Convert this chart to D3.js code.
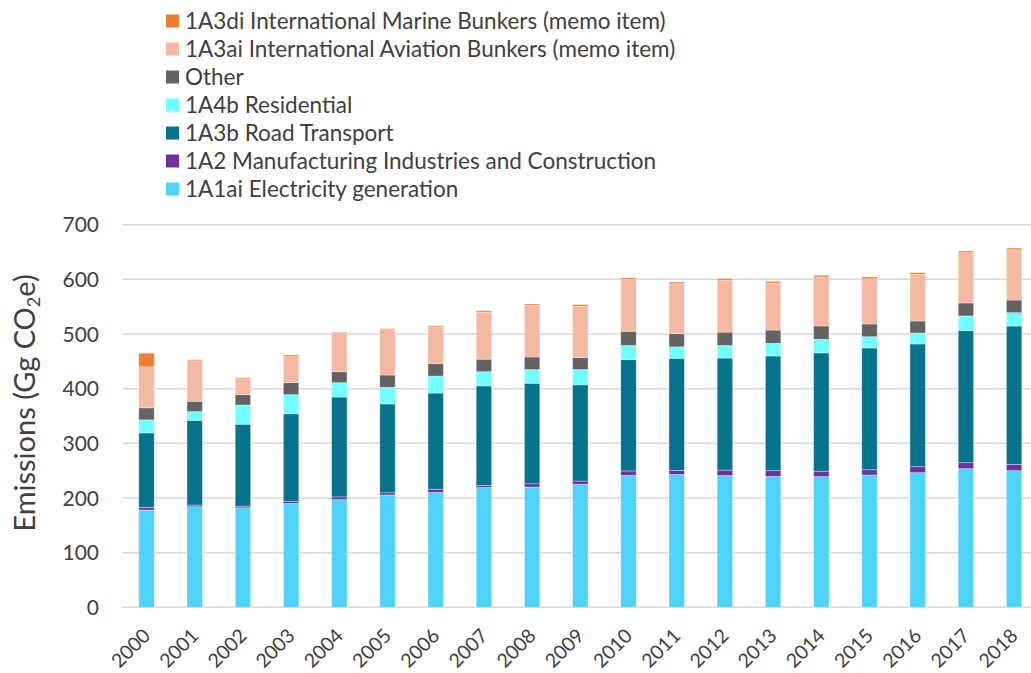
<!DOCTYPE html>
<html lang="en">
<head>
  <meta charset="UTF-8" />
  <title>Emissions by sector</title>
  <script src="https://d3js.org/d3.v7.min.js"></script>
  <style>
    * { margin: 0; padding: 0; box-sizing: border-box; }
    body { background: #fff; font-family: Lato, 'Open Sans', sans-serif; }
    svg { display: block; }
    text { fill: #404040; }
  </style>
</head>
<body>
  <svg id="chart" width="1031" height="673"></svg>

  <script>
    const years = ['2000', '2001', '2002', '2003', '2004', '2005', '2006', '2007', '2008', '2009',
                   '2010', '2011', '2012', '2013', '2014', '2015', '2016', '2017', '2018'];

    // Gg CO2e per sector, bottom of stack first
    const electricity = [178, 184, 182, 190, 197, 205.5, 210, 219, 220, 225, 241.5, 243, 241, 239.6, 239, 242, 246.3, 253.6, 250];
    const manufacturing = [5, 3, 3, 4, 5, 4, 6, 4, 6, 6, 8, 7.5, 10, 10.4, 10, 9.7, 11, 11, 11.6];
    const roadTransport = [136, 155, 150, 160, 182.7, 162.5, 176, 182, 184, 176, 203.5, 205, 205, 209.8, 216.4, 222.7, 224.5, 241.5, 253];
    const residential = [24, 16, 35, 35, 26.3, 30.5, 31, 26, 25, 28, 26, 21, 23, 23.2, 25, 20.6, 20, 27, 24.4];
    const other = [22, 19, 19, 22, 20, 22.5, 23, 23, 23, 22, 26, 24, 24.5, 24.3, 24.3, 23.3, 22, 23.7, 23.2];
    const aviation = [75, 74, 29, 47.5, 71.4, 83, 67, 86, 94.5, 93.5, 94.5, 91.5, 94.5, 86, 89.7, 82.7, 85.4, 92, 92];
    const marine = [25, 2, 2, 3, 1.2, 1.7, 2, 2.5, 2.5, 3, 3, 3, 3, 3, 3, 3.3, 3, 3, 3];

    const yTicks = [0, 100, 200, 300, 400, 500, 600, 700];

    const series = [
      { key: 'elec', name: '1A1ai Electricity generation', values: electricity, color: '#4fd3fb' },
      { key: 'manu', name: '1A2 Manufacturing Industries and Construction', values: manufacturing, color: '#7030a0' },
      { key: 'road', name: '1A3b Road Transport', values: roadTransport, color: '#06728c' },
      { key: 'res', name: '1A4b Residential', values: residential, color: '#72ffff' },
      { key: 'other', name: 'Other', values: other, color: '#636363' },
      { key: 'avi', name: '1A3ai International Aviation Bunkers (memo item)', values: aviation, color: '#f4b8a3' },
      { key: 'mar', name: '1A3di International Marine Bunkers (memo item)', values: marine, color: '#ed7d31' }
    ];

    const rows = years.map((yr, i) => {
      const r = { year: yr };
      series.forEach(s => { r[s.key] = s.values[i]; });
      return r;
    });

    const svg = d3.select('#chart');

    const x = d3.scaleBand().domain(years).range([122.4, 1038.2])
      .paddingInner(0.68).paddingOuter(0.34);
    const y = d3.scaleLinear().domain([0, 700]).range([607.3, 224.7]);

    // gridlines
    svg.append('g').selectAll('line').data(yTicks).join('line')
      .attr('x1', 122.4).attr('x2', 1038.2)
      .attr('y1', d => y(d)).attr('y2', d => y(d))
      .attr('stroke', '#d9d9d9').attr('stroke-width', 1.5);

    // y tick labels
    svg.append('g').selectAll('text').data(yTicks).join('text')
      .attr('x', 99).attr('y', d => y(d))
      .attr('dy', '0.36em')
      .attr('text-anchor', 'end')
      .attr('font-size', 21)
      .text(d => d);

    // stacked bars
    const stack = d3.stack().keys(series.map(s => s.key))(rows);
    svg.append('g').selectAll('g').data(stack).join('g')
      .attr('fill', (d, i) => series[i].color)
      .selectAll('rect').data(d => d).join('rect')
      .attr('x', d => x(d.data.year))
      .attr('width', x.bandwidth())
      .attr('y', d => y(d[1]))
      .attr('height', d => y(d[0]) - y(d[1]))
      .attr('stroke', '#fff').attr('stroke-opacity', 0.45).attr('stroke-width', 0.75);

    // x tick labels, rotated
    svg.append('g').selectAll('text').data(years).join('text')
      .attr('transform', d => `translate(${x(d) + x.bandwidth() / 2 + 5},637) rotate(-45)`)
      .attr('text-anchor', 'end')
      .attr('font-size', 19.5)
      .text(d => d);

    // y axis title
    const title = svg.append('text')
      .attr('transform', 'translate(35,403) rotate(-90)')
      .attr('text-anchor', 'middle')
      .attr('font-size', 29);
    title.append('tspan').text('Emissions (Gg CO');
    title.append('tspan').attr('dy', 5).attr('font-size', 18).text('2');
    title.append('tspan').attr('dy', -5).text('e)');

    // legend, top row is the top of the stack
    const legend = svg.append('g').selectAll('g').data(series.slice().reverse()).join('g')
      .attr('transform', (d, i) => `translate(166,${21 + i * 28})`);
    legend.append('rect')
      .attr('x', 0).attr('y', -6.5).attr('width', 13).attr('height', 13)
      .attr('fill', d => d.color);
    legend.append('text')
      .attr('x', 19).attr('dy', '0.36em')
      .attr('font-size', 22.5)
      .text(d => d.name);
  </script>
</body>
</html>
